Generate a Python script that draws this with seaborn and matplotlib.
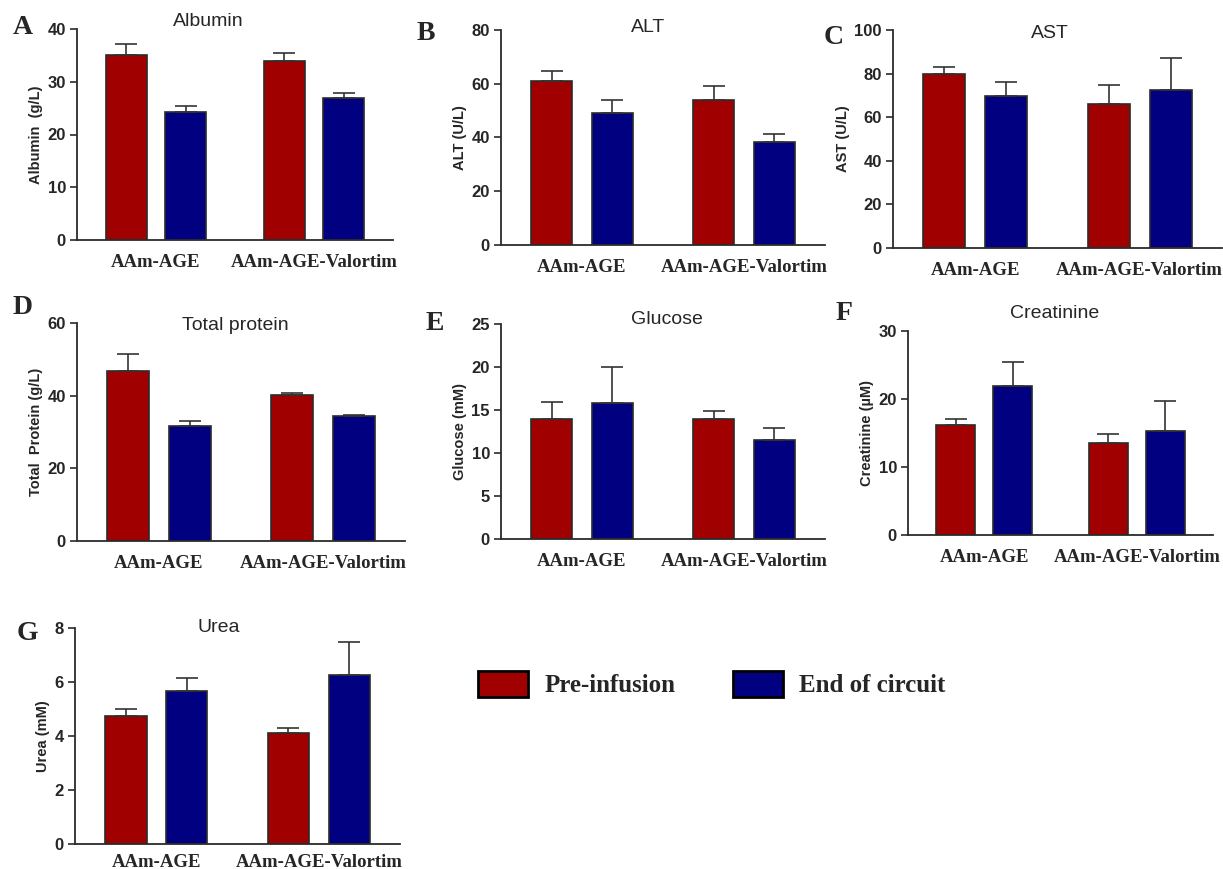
import numpy as np
import pandas as pd
import matplotlib
matplotlib.use("Agg")
import matplotlib.pyplot as plt
import seaborn as sns
from matplotlib.patches import Patch

groups = ["AAm-AGE", "AAm-AGE-Valortim"]
series = ["Pre-infusion", "End of circuit"]
colors = ["#A00000", "#000080"]

titles = ["Albumin", "ALT", "AST", "Total protein", "Glucose", "Creatinine", "Urea"]
ylabels = ["Albumin  (g/L)", "ALT (U/L)", "AST (U/L)", "Total  Protein (g/L)",
           "Glucose (mM)", "Creatinine (\u00b5M)", "Urea (mM)"]
letters = ["A", "B", "C", "D", "E", "F", "G"]

pre_mean = [[35.0, 34.0], [61.2, 53.8], [79.8, 65.9], [46.7, 40.1], [13.9, 13.9], [16.2, 13.5], [4.73, 4.11]]
pre_sem = [[2.1, 1.4], [3.6, 5.3], [3.3, 8.8], [4.7, 0.6], [2.0, 1.0], [0.9, 1.4], [0.27, 0.19]]
end_mean = [[24.2, 27.0], [49.0, 38.3], [69.8, 72.3], [31.6, 34.3], [15.8, 11.5], [21.9, 15.3], [5.68, 6.26]]
end_sem = [[1.2, 0.8], [4.9, 3.1], [6.2, 14.7], [1.4, 0.5], [4.2, 1.4], [3.55, 4.4], [0.47, 1.21]]
yticks = [np.arange(0, 41, 10), np.arange(0, 81, 20), np.arange(0, 101, 20), np.arange(0, 61, 20),
          np.arange(0, 26, 5), np.arange(0, 31, 10), np.arange(0, 9, 2)]

W, H = 1223, 869
# axes boxes in pixels: left, right, top, bottom
boxes = [(77, 393, 29, 240), (501, 825, 30, 245), (893, 1222, 30, 248),
         (77, 405, 323, 541), (501, 825, 324, 539), (908, 1213, 331, 535),
         (75, 400, 628, 844)]
title_pos = [(208, 21), (648, 27), (1050, 34), (235, 326), (667, 320), (1055, 314), (219, 627)]
letter_pos = [(23, 28), (426, 33), (834, 37), (23, 307), (435, 323), (844, 313), (27, 633)]
xpads = [10, 10, 10, 10, 10, 10, 7]

sns.set_theme(style="ticks")
plt.rcParams["font.family"] = ["Liberation Sans", "DejaVu Sans"]

fig = plt.figure(figsize=(W / 100, H / 100), dpi=100)
edge = "#2b2b2b"

for i in range(7):
    l, r, t, b = boxes[i]
    ax = fig.add_axes([l / W, 1 - b / H, (r - l) / W, (b - t) / H])
    df = pd.DataFrame({
        "group": groups * 2,
        "series": [series[0]] * 2 + [series[1]] * 2,
        "value": pre_mean[i] + end_mean[i],
        "err": pre_sem[i] + end_sem[i],
    })
    sns.barplot(data=df, x="group", y="value", hue="series", order=groups,
                hue_order=series, palette=colors, width=0.75, gap=0.32,
                edgecolor=edge, linewidth=1.2, errorbar=None, saturation=1,
                legend=False, ax=ax)
    # error bars (upper only)
    for j, s in enumerate(series):
        sub = df[df["series"] == s]
        cont = ax.containers[j]
        xs = [p.get_x() + p.get_width() / 2 for p in cont.patches]
        ax.errorbar(xs, sub["value"].values,
                    yerr=[np.zeros(len(sub)), sub["err"].values],
                    fmt="none", ecolor="#333333", elinewidth=1.2, capsize=8,
                    capthick=1.2, zorder=1)
    ax.set_xlim(-0.5, 1.5)
    ax.set_ylim(0, yticks[i][-1])
    ax.set_yticks(yticks[i])
    ax.set_xlabel("")
    ax.set_ylabel(ylabels[i], fontsize=10.5, fontweight="bold", labelpad=3)
    for lab in ax.get_yticklabels():
        lab.set_fontweight("bold")
        lab.set_fontsize(12)
    ax.set_xticks([0, 1])
    ax.set_xticklabels(groups, fontfamily="Liberation Serif", fontweight="bold", fontsize=13.5)
    ax.tick_params(axis="x", length=0, pad=xpads[i])
    ax.tick_params(axis="y", length=5, width=1.2, color=edge, pad=3)
    sns.despine(ax=ax)
    for sp in ["left", "bottom"]:
        ax.spines[sp].set_color(edge)
        ax.spines[sp].set_linewidth(1.3)
    ax.set_facecolor("white")
    tx, ty = title_pos[i]
    fig.text(tx / W, 1 - ty / H, titles[i], ha="center", va="center", fontsize=14)
    lx, ly = letter_pos[i]
    fig.text(lx / W, 1 - ly / H, letters[i], ha="center", va="center", fontsize=20,
             fontfamily="Liberation Serif", fontweight="bold")

handles = [Patch(facecolor=c, edgecolor="black", linewidth=2) for c in colors]
fig.legend(handles, series, loc="center left", bbox_to_anchor=(478 / W, 1 - 684 / H),
           ncol=2, frameon=False, prop={"family": "Liberation Serif", "weight": "bold", "size": 18},
           handlelength=2.0, handleheight=1.2, handletextpad=0.65, columnspacing=2.3,
           borderpad=0, borderaxespad=0)

fig.savefig("out.png", dpi=100, facecolor="white")
